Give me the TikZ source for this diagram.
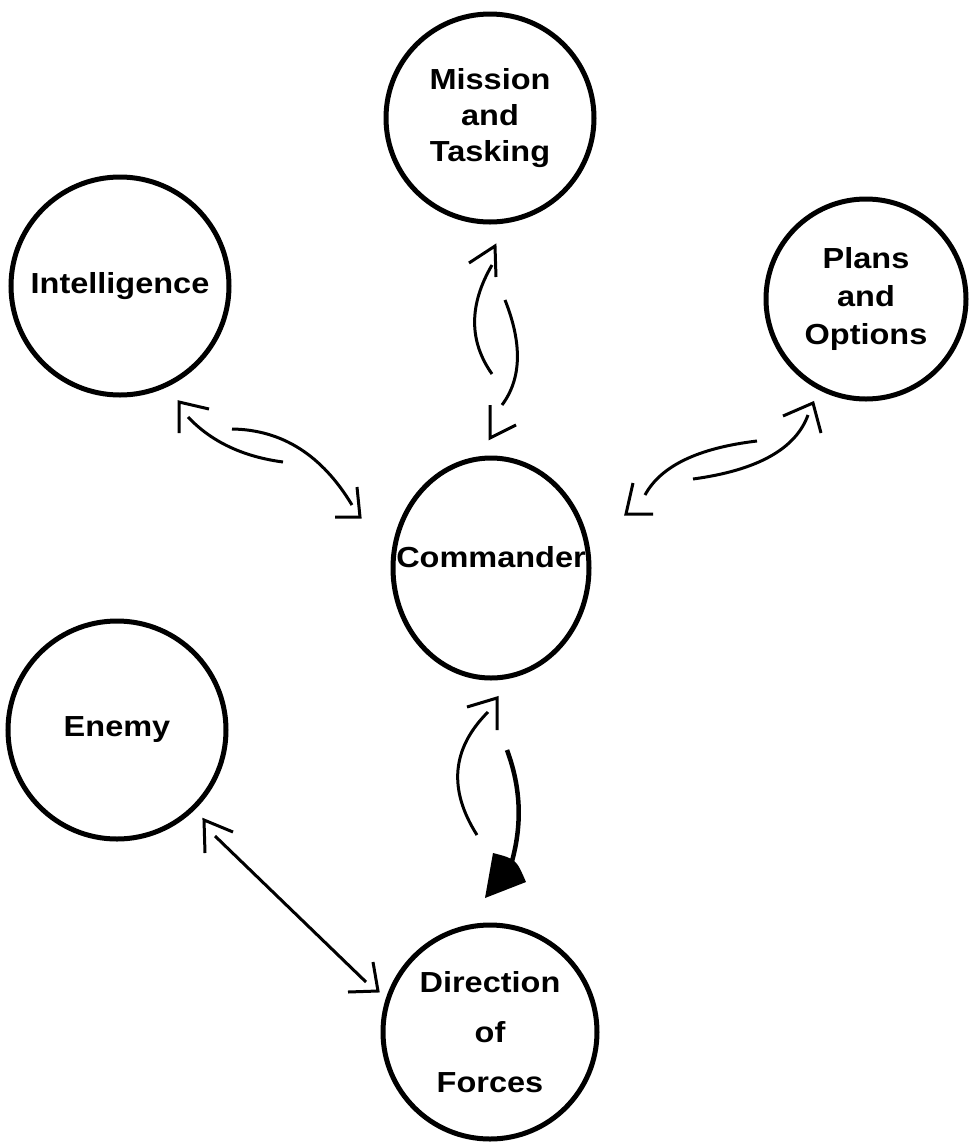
\documentclass[tikz,border=0pt]{standalone}
\usepackage{fontspec}
\setmainfont{Liberation Sans}[FakeStretch=1.12]
\usetikzlibrary{shapes.geometric}
\begin{document}
\begin{tikzpicture}[x=1pt,y=-1pt,
  lbl/.style={inner sep=0pt, align=center, font=\bfseries\fontsize{29}{36}\selectfont},
  ring/.style={lbl, draw, line width=5pt, circle},
  shaft/.style={line width=3pt},
  barb/.style={line width=3pt, line join=miter}]
\useasboundingbox (0,0) rectangle (969,1144);

% circles
\node[ring, minimum size=208pt] (mis) at (490,118) {Mission\\and\\Tasking};
\node[ring, minimum size=218pt] (intel) at (120,286) {Intelligence};
\node[ring, minimum size=200pt, font=\bfseries\fontsize{29}{38}\selectfont] (plans) at (866,299) {Plans\\and\\Options};
\node[draw, line width=5pt, ellipse, inner sep=0pt, minimum width=196pt, minimum height=220pt] (cmd) at (491,568) {};
\node[lbl, anchor=base] (cmdtxt) at (491,567) {Commander};
\node[ring, minimum size=218pt] (enemy) at (117,730) {Enemy};
\node[ring, minimum size=214pt, font=\bfseries\fontsize{29}{50}\selectfont] (dir) at (490,1032) {Direction\\of\\Forces};

% connector end points
\coordinate (a1s) at (283,462); \coordinate (a1e) at (188,417); \coordinate (h1) at (179,402);
\coordinate (a2s) at (232,429); \coordinate (a2e) at (352,505); \coordinate (h2) at (360,517);
\coordinate (a3s) at (693,479); \coordinate (a3e) at (808,415); \coordinate (h3) at (813,403);
\coordinate (a4s) at (757,441); \coordinate (a4e) at (645,495); \coordinate (h4) at (626,514);
\coordinate (a5s) at (492,374); \coordinate (a5e) at (492,265); \coordinate (h5) at (495,246);
\coordinate (a6s) at (505,300); \coordinate (a6e) at (502,405); \coordinate (h6) at (490,438);
\coordinate (a7s) at (477,835); \coordinate (a7e) at (488,712); \coordinate (h7) at (497,698);
\coordinate (a8s) at (507,750); \coordinate (a8e) at (510,868); \coordinate (h8) at (485,898);
\coordinate (e1) at (215,836); \coordinate (e2) at (366,982);
\coordinate (h9a) at (204,820); \coordinate (h9b) at (378,991);

% Commander <-> Intelligence
\draw[shaft] (a1s) .. controls (243,456.7) and (211.3,441.7) .. (a1e);
\draw[barb] (h1) ++(0,31) -- (h1) -- ++(30,7);
\draw[shaft] (a2s) .. controls (282,429.7) and (322,455) .. (a2e);
\draw[barb] (h2) ++(-3,-30) -- (h2) -- ++(-25,0);

% Commander <-> Plans
\draw[shaft] (a3s) .. controls (757.3,470.3) and (795.7,449) .. (a3e);
\draw[barb] (h3) ++(-30,13) -- (h3) -- ++(8,30);
\draw[shaft] (a4s) .. controls (698,448) and (660.7,466) .. (a4e);
\draw[barb] (h4) ++(7,-31) -- (h4) -- ++(27,0);

% Commander <-> Mission
\draw[shaft] (a5s) .. controls (468.8,341.1) and (468.8,304.8) .. (a5e);
\draw[barb] (h5) ++(-26,17) -- (h5) -- ++(1,31);
\draw[shaft] (a6s) .. controls (522.5,343.9) and (521.5,378.9) .. (a6e);
\draw[barb] (h6) ++(0,-33) -- (h6) -- ++(26,-13);

% Commander <-> Direction
\draw[shaft] (a7s) .. controls (448,789.4) and (451.6,748.4) .. (a7e);
\draw[barb] (h7) ++(-30,9) -- (h7) -- ++(0,32);
\draw[line width=4.5pt] (a8s) .. controls (521,787.8) and (523,826) .. (a8e);
\fill (h8) -- (493,853) .. controls (516,859) .. (526,882) -- cycle;

% Enemy <-> Direction
\draw[shaft] (e1) -- (e2);
\draw[barb] (h9a) ++(1,33) -- (h9a) -- ++(29,12);
\draw[barb] (h9b) ++(-5,-29) -- (h9b) -- ++(-30,1);
\end{tikzpicture}
\end{document}
